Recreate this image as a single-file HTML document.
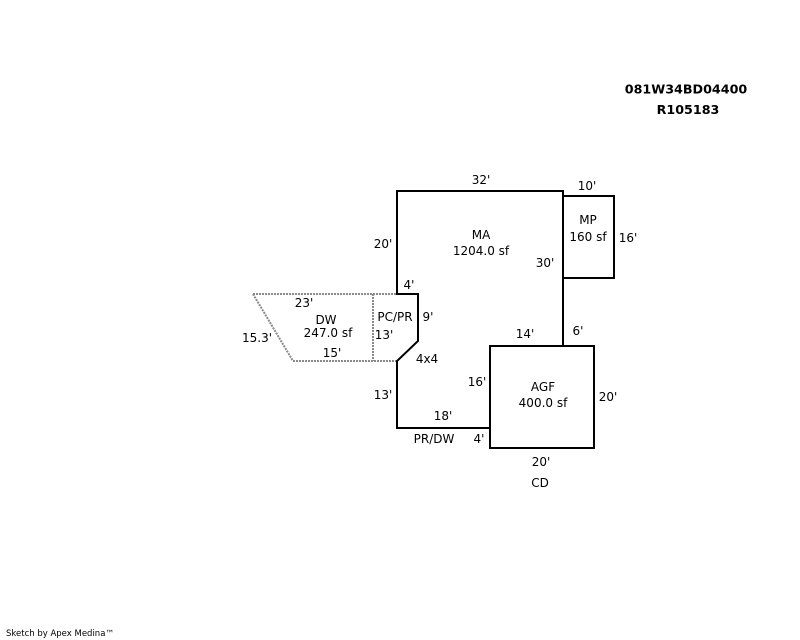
<!DOCTYPE html>
<html><head><meta charset="utf-8"><style>
html,body{margin:0;padding:0;background:#fff;}
svg{display:block;}
text{font-family:"DejaVu Sans","Liberation Sans",sans-serif;font-size:12px;fill:#000;}
</style></head><body>
<svg width="800" height="640" viewBox="0 0 800 640" xmlns="http://www.w3.org/2000/svg">
<rect width="800" height="640" fill="#fff"/>
<!-- dashed DW / PC/PR -->
<g fill="none" stroke="#8a8a8a" stroke-width="2" stroke-dasharray="2 1">
<line x1="253" y1="294" x2="397" y2="294"/>
<line x1="293" y1="361" x2="397" y2="361"/>
<line x1="253" y1="294" x2="293" y2="361"/>
<line x1="373" y1="294" x2="373" y2="361"/>
</g>
<!-- solid outlines -->
<g fill="none" stroke="#000" stroke-width="2">
<polyline points="490,428 397,428 397,361 418,341 418,294 397,294 397,191 563,191 563,346"/>
<rect x="563" y="196" width="51" height="82"/>
<rect x="490" y="346" width="104" height="102"/>
</g>
<g text-anchor="middle">
<text x="481" y="184">32'</text>
<text x="587" y="190">10'</text>
<text x="588" y="224">MP</text>
<text x="588" y="241">160 sf</text>
<text x="628" y="242">16'</text>
<text x="481" y="239">MA</text>
<text x="481" y="255">1204.0 sf</text>
<text x="383" y="248">20'</text>
<text x="545" y="267">30'</text>
<text x="409" y="289">4'</text>
<text x="304" y="307">23'</text>
<text x="326" y="324">DW</text>
<text x="328" y="337">247.0 sf</text>
<text x="257" y="342">15.3'</text>
<text x="332" y="357">15'</text>
<text x="395" y="321">PC/PR</text>
<text x="384" y="339">13'</text>
<text x="428" y="321">9'</text>
<text x="427" y="363">4x4</text>
<text x="525" y="338">14'</text>
<text x="578" y="335">6'</text>
<text x="477" y="386">16'</text>
<text x="543" y="391">AGF</text>
<text x="543" y="407">400.0 sf</text>
<text x="608" y="401">20'</text>
<text x="383" y="399">13'</text>
<text x="443" y="420">18'</text>
<text x="434" y="443">PR/DW</text>
<text x="479" y="443">4'</text>
<text x="541" y="466">20'</text>
<text x="540" y="487">CD</text>
<text x="686" y="93.5" style="font-weight:bold;font-size:12.7px">081W34BD04400</text>
<text x="688" y="114" style="font-weight:bold;font-size:12.7px">R105183</text>
</g>
<text x="6" y="636" style="font-size:8.5px">Sketch by Apex Medina™</text>
</svg>
</body></html>
